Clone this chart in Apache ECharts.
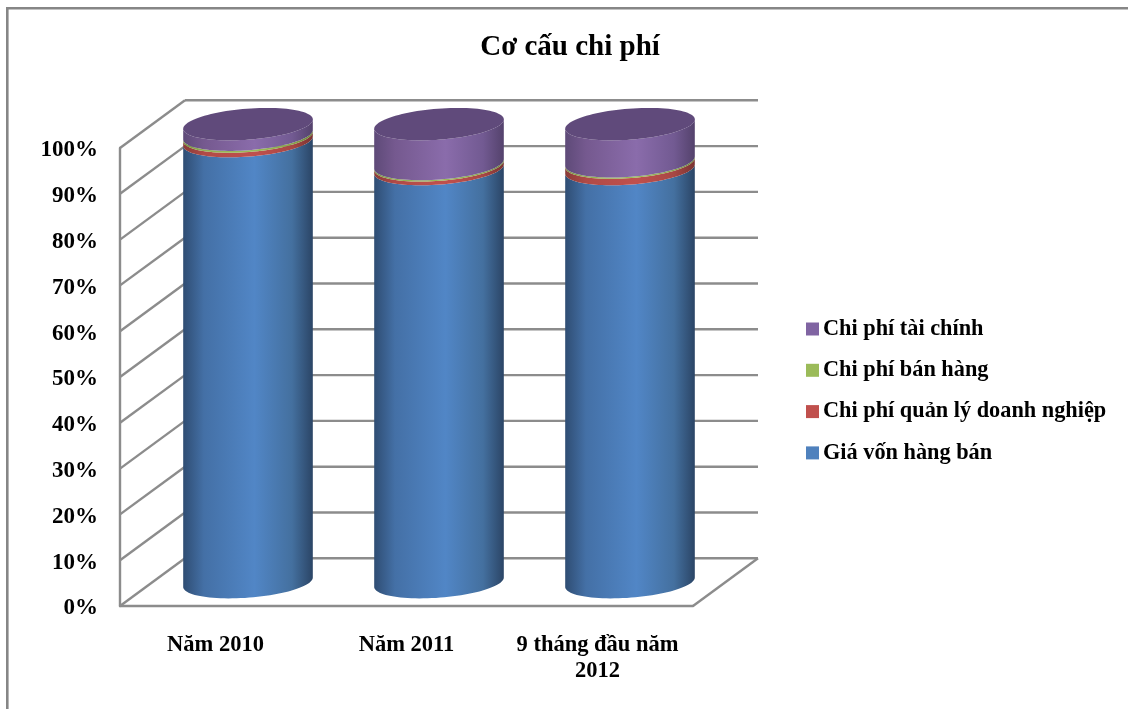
<!DOCTYPE html>
<html><head><meta charset="utf-8">
<script src="https://cdn.jsdelivr.net/npm/echarts@6/dist/echarts.min.js"></script>
<style>html,body{margin:0;padding:0;background:#fff}#c{width:1128px;height:709px}</style>
</head><body><div id="c"></div>
<script>
const categories = ['Năm 2010', 'Năm 2011', '9 tháng đầu năm\n2012'];
const tickValues = [0, 10, 20, 30, 40, 50, 60, 70, 80, 90, 100];
const giaVon = [96.3, 90.2, 90.2];
const quanLy = [1.0, 0.8, 1.4];
const banHang = [0.4, 0.3, 0.3];
const taiChinh = [2.3, 8.7, 8.1];
const seriesNames = ['Giá vốn hàng bán', 'Chi phí quản lý doanh nghiệp', 'Chi phí bán hàng', 'Chi phí tài chính'];
const seriesValues = [giaVon, quanLy, banHang, taiChinh];

const FONT = '"Liberation Serif","Times New Roman",serif';
const DX = 65, DY = 47.7;          // oblique depth of the 3D box
const RX = 65, RY = 15.5, TILT = -4.4 * Math.PI / 180;
const GRAY = '#8c8c8c';
const palette = [
  {edge:'#2f4d73', side:'#4470a6', mid:'#5186c6', edge2:'#2b4566', side2:'#44709f', solid:'#4f81bd'},
  {edge:'#8a3b38', side:'#b04a47', mid:'#c0504d', edge2:'#7a3331', side2:'#a84744', solid:'#c0504d'},
  {edge:'#7a9445', side:'#92b053', mid:'#9bbb59', edge2:'#6a8438', side2:'#8aa54e', solid:'#9bbb59'},
  {edge:'#5e4a78', side:'#75598f', mid:'#8a6cab', edge2:'#54426c', side2:'#725a92', solid:'#8064a2'}
];
function ell(cx, cy, t) {
  const px = RX * Math.cos(t), py = RY * Math.sin(t);
  return [cx + px * Math.cos(TILT) - py * Math.sin(TILT), cy + px * Math.sin(TILT) + py * Math.cos(TILT)];
}
function grad(p) {
  return new echarts.graphic.LinearGradient(0, 0, 1, 0, [
    {offset:0, color:p.edge},{offset:0.16, color:p.side},{offset:0.55, color:p.mid},
    {offset:0.84, color:p.side2},{offset:1, color:p.edge2}]);
}
function cylRender(idx) {
  return function (params, api) {
    const c0 = api.coord([api.value(0), api.value(1)]);
    const c1 = api.coord([api.value(0), api.value(2)]);
    const cx = c0[0] + DX / 2, yB = c0[1] - DY / 2, yT = c1[1] - DY / 2;
    const N = 48;
    const side = [];
    for (let i = 0; i <= N; i++) side.push(ell(cx, yB, Math.PI * i / N));
    for (let i = 0; i <= N; i++) side.push(ell(cx, yT, Math.PI - Math.PI * i / N));
    const children = [{type:'polygon', shape:{points:side}, style:{fill:grad(palette[idx])}}];
    if (idx === seriesValues.length - 1) {
      const top = [];
      for (let i = 0; i < 96; i++) top.push(ell(cx, yT, Math.PI * 2 * i / 96));
      children.push({type:'polygon', shape:{points:top}, style:{fill:'#604a7b'}});
    }
    return {type:'group', children};
  };
}
function wallRender(params, api) {
  const cs = params.coordSys;
  const v = api.value(0);
  const y = api.coord([0, v])[1], x0 = cs.x, x1 = cs.x + cs.width;
  const line = {stroke:GRAY, lineWidth:2.4};
  const kids = [
    {type:'line', shape:{x1:x0, y1:y, x2:x0 + DX, y2:y - DY}, style:line},
    {type:'line', shape:{x1:x0 + DX, y1:y - DY, x2:x1 + DX, y2:y - DY}, style:line}
  ];
  if (v === tickValues[0]) kids.push({type:'line', shape:{x1:x1, y1:y, x2:x1 + DX, y2:y - DY}, style:line});
  return {type:'group', children:kids};
}
const series = [{
  type:'custom', name:'walls', renderItem:wallRender, silent:true, z:1,
  data:tickValues.map(v => [v]), encode:{y:0}
}];
seriesNames.forEach((name, s) => {
  const data = categories.map((_, i) => {
    let base = 0;
    for (let k = 0; k < s; k++) base += seriesValues[k][i];
    return [i, base, base + seriesValues[s][i]];
  });
  series.push({type:'custom', name, renderItem:cylRender(s), z:5 + s, data,
    itemStyle:{color:palette[s].solid}, encode:{x:0, y:[1, 2]}});
});
const chart = echarts.init(document.getElementById('c'), null, {renderer:'canvas'});
chart.setOption({
  animation:false,
  backgroundColor:'#fff',
  title:{text:'Cơ cấu chi phí', left:565, top:28, textAlign:'center',
    textStyle:{fontFamily:FONT, fontWeight:'bold', fontSize:29, color:'#000'}},
  legend:{
    data:seriesNames.slice().reverse().map(n => ({name:n, icon:'rect'})),
    orient:'vertical', left:801, top:313, itemWidth:13, itemHeight:13, itemGap:19.3, selectedMode:false,
    textStyle:{fontFamily:FONT, fontWeight:'bold', fontSize:22.3, color:'#000', padding:[0,0,0,-1], lineHeight:22}
  },
  grid:{left:120, top:148, width:573, height:458},
  xAxis:{type:'category', data:categories,
    axisLine:{lineStyle:{color:GRAY, width:2.4}}, axisTick:{show:false},
    axisLabel:{fontFamily:FONT, fontWeight:'bold', fontSize:22.5, color:'#000', margin:26, lineHeight:26, interval:0}},
  yAxis:{type:'value', min:0, max:100, interval:10,
    axisLine:{show:true, lineStyle:{color:GRAY, width:2.4}}, axisTick:{show:false}, splitLine:{show:false},
    axisLabel:{fontFamily:FONT, fontWeight:'bold', fontSize:23, color:'#000', margin:22, verticalAlign:'top', lineHeight:5, formatter:'{value}%'}},
  graphic:[
    {type:'line', silent:true, shape:{x1:6, y1:8.3, x2:1128, y2:8.3}, style:{stroke:'#868686', lineWidth:2.6}},
    {type:'line', silent:true, shape:{x1:7.3, y1:7, x2:7.3, y2:709}, style:{stroke:'#868686', lineWidth:2.6}}
  ],
  series
});
</script></body></html>
